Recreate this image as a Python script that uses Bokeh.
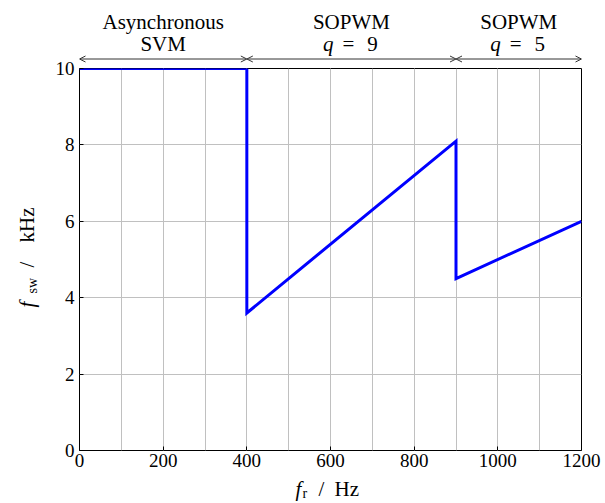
from math import pi
from bokeh.plotting import figure
from bokeh.layouts import row, column
from bokeh.models import Range1d, SingleIntervalTicker, Arrow, OpenHead
from bokeh.core.properties import value
from bokeh.embed import file_html
from bokeh.resources import INLINE

# data
fr = [0, 400, 400, 900, 900, 1200]          # Hz
fsw = [10, 10, 3.6, 8.1, 4.5, 6.0]          # kHz
x_ticks_interval = 200
y_ticks_interval = 2
regions = [(0, 400), (400, 900), (900, 1200)]
region_line1 = ["Asynchronous", "SOPWM", "SOPWM"]
region_line2 = ["SVM", None, None]
region_q = [None, "9", "5"]

FONT = "Liberation Serif"
W, H = 605, 503
YL_W = 40            # width of the y-label strip
TOP_H = 68           # height of the annotation strip
OVER = 14            # main plot border that slides under the annotation strip
BOT_H = 25           # height of the x-label strip
L, R = 79, 24        # frame edges from the page sides
FRAME_H = 382
XMAX, YMAX = 1200, 10
MAIN_H = H - TOP_H - BOT_H + OVER

shared_x = Range1d(0, XMAX)


def blank(width, height, x_range, y_range, left=0, right=0):
    f = figure(width=width, height=height, output_backend="svg", toolbar_location=None,
               title=None, x_range=x_range, y_range=y_range,
               x_axis_type=None, y_axis_type=None, min_border=0,
               min_border_left=left, min_border_right=right, min_border_top=0, min_border_bottom=0)
    f.outline_line_color = None
    f.xgrid.visible = False
    f.ygrid.visible = False
    f.background_fill_color = "white"
    f.border_fill_color = "white"
    return f


def txt(f, x, y, s, size="21px", style="normal", align="left", angle=0.0, x_offset=0):
    f.text(x=[x], y=[y], text=[s], text_font=value(FONT), text_font_size=value(size),
           text_font_style=style, text_align=align, text_baseline="alphabetic",
           text_color="black", angle=angle, x_offset=x_offset)


# ---------- main plot ----------
p = figure(width=W - YL_W, height=MAIN_H, output_backend="svg", toolbar_location=None,
           title=None, x_range=shared_x, y_range=Range1d(0, YMAX), min_border=0,
           min_border_left=L - YL_W, min_border_right=R, min_border_top=OVER,
           min_border_bottom=MAIN_H - OVER - FRAME_H)
p.margin = (-OVER, 0, 0, 0)
p.outline_line_color = "black"
p.outline_line_width = 1
p.background_fill_color = "white"
p.border_fill_color = None

p.xaxis.ticker = SingleIntervalTicker(interval=x_ticks_interval, num_minor_ticks=2)
p.yaxis.ticker = SingleIntervalTicker(interval=y_ticks_interval, num_minor_ticks=0)
for ax in (p.xaxis[0], p.yaxis[0]):
    ax.axis_line_color = None
    ax.major_tick_in = 4
    ax.major_tick_out = 0
    ax.minor_tick_in = 0
    ax.minor_tick_out = 0
    ax.major_tick_line_color = "black"
    ax.major_label_text_font = FONT
    ax.major_label_text_font_size = "19px"
    ax.major_label_text_color = "black"
p.xaxis.major_label_standoff = 3
p.yaxis.major_label_standoff = 5

p.xgrid.grid_line_color = "#c0c0c0"
p.xgrid.minor_grid_line_color = "#c0c0c0"
p.ygrid.grid_line_color = "#c0c0c0"

p.line(fr, fsw, line_width=3, color="#0000ff", line_join="miter")

# ---------- annotation strip above ----------
top = blank(W - YL_W, TOP_H, shared_x, Range1d(TOP_H, 0), left=L - YL_W, right=R)
top.background_fill_color = None
top.border_fill_color = None
for (a, b), l1, l2, q in zip(regions, region_line1, region_line2, region_q):
    mid = (a + b) / 2
    top.add_layout(Arrow(x_start=a, x_end=b, y_start=58.5, y_end=58.5,
                         line_color="#333333", line_width=1,
                         start=OpenHead(size=6, line_color="#333333", line_width=1),
                         end=OpenHead(size=6, line_color="#333333", line_width=1)))
    txt(top, mid, 21, l1, align="center")
    if l2:
        txt(top, mid, 43, l2, align="center")
    if q:
        txt(top, mid, 43, "q", style="italic", align="right", x_offset=-18)
        txt(top, mid, 43, "=", align="center", x_offset=-3)
        txt(top, mid, 43, q, align="center", x_offset=21)

# ---------- x label strip below ----------
bot = blank(W - YL_W, BOT_H, shared_x, Range1d(H, H - BOT_H), left=L - YL_W, right=R)
xl = 600
txt(bot, xl, 488, "f", style="italic", x_offset=-35)
txt(bot, xl, 492.5, "r", size="14px", x_offset=-28)
txt(bot, xl, 488, "/", x_offset=-12)
txt(bot, xl, 488, "Hz", x_offset=4)

# ---------- y label strip on the left ----------
yl = blank(YL_W, H, Range1d(0, YL_W), Range1d(H, 0))
txt(yl, 26, 307, "f", style="italic", angle=pi / 2)
txt(yl, 31.5, 293, "sw", size="14px", angle=pi / 2)
txt(yl, 26, 267, "/", angle=pi / 2)
txt(yl, 26, 242, "kHz", angle=pi / 2)

layout = row(yl, column(top, p, bot, spacing=0), spacing=0)
open("out.html", "w").write(file_html(layout, INLINE))
